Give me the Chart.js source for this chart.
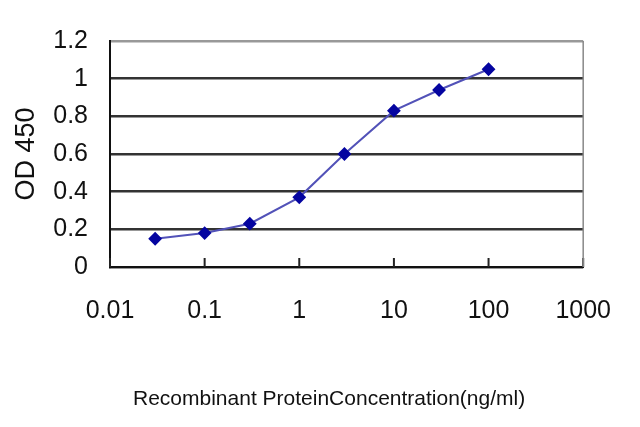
<!DOCTYPE html>
<html>
<head>
<meta charset="utf-8">
<script src="https://cdn.jsdelivr.net/npm/chart.js@4"></script>
<style>
  html, body { margin: 0; padding: 0; background: #fff; }
  #wrap { width: 640px; height: 427px; }
</style>
</head>
<body>
<div id="wrap"><canvas id="chart"></canvas></div>
<script>
  // concentration (ng/ml) and OD 450 readings
  const concentrations = [0.03, 0.1, 0.3, 1, 3, 10, 30, 100];
  const od450 = [0.15, 0.18, 0.23, 0.37, 0.60, 0.83, 0.94, 1.05];
  const xTicks = [0.01, 0.1, 1, 10, 100, 1000];
  const yTicks = [0, 0.2, 0.4, 0.6, 0.8, 1, 1.2];

  const sans = "'Liberation Sans', Arial, sans-serif";

  // inward decade tick marks on the x axis and a grey right border
  const frame = {
    id: 'frame',
    afterDatasetsDraw(chart) {
      const ctx = chart.ctx;
      const area = chart.chartArea;
      const x = chart.scales.x;
      ctx.save();
      ctx.strokeStyle = '#222';
      ctx.lineWidth = 2;
      ctx.beginPath();
      xTicks.forEach(v => {
        const px = x.getPixelForValue(v);
        ctx.moveTo(px, area.bottom);
        ctx.lineTo(px, area.bottom - 9);
      });
      ctx.stroke();
      ctx.strokeStyle = '#888';
      ctx.lineWidth = 1.5;
      ctx.beginPath();
      ctx.moveTo(area.right, area.top);
      ctx.lineTo(area.right, area.bottom);
      ctx.stroke();
      ctx.restore();
    }
  };

  new Chart(document.getElementById('chart'), {
    type: 'line',
    data: {
      datasets: [{
        label: 'OD 450',
        data: concentrations.map((c, i) => ({ x: c, y: od450[i] })),
        borderColor: '#5252b8',
        borderWidth: 2,
        pointStyle: 'rectRot',
        pointRadius: 5.5,
        pointBackgroundColor: '#0505a0',
        pointBorderColor: '#0505a0',
        tension: 0,
        fill: false
      }]
    },
    options: {
      responsive: true,
      maintainAspectRatio: false,
      animation: false,
      layout: { padding: { left: 0, right: 54, top: 41, bottom: 0 } },
      plugins: { legend: { display: false }, tooltip: { enabled: false } },
      scales: {
        x: {
          type: 'logarithmic',
          min: 0.01,
          max: 1000,
          afterBuildTicks: s => { s.ticks = xTicks.map(v => ({ value: v })); },
          afterFit: s => { s.height = 160; },
          grid: { drawOnChartArea: false, drawTicks: false },
          border: { color: '#111', width: 2 },
          ticks: {
            autoSkip: false,
            maxRotation: 0,
            padding: 29,
            color: '#111',
            font: { family: sans, size: 25 },
            callback: v => String(v)
          },
          title: {
            display: true,
            text: 'Recombinant ProteinConcentration(ng/ml)      ',
            color: '#111',
            font: { family: sans, size: 21 },
            padding: { top: 0, bottom: 15 }
          }
        },
        y: {
          min: 0,
          max: 1.2,
          afterBuildTicks: s => { s.ticks = yTicks.map(v => ({ value: v })); },
          afterFit: s => { s.width = 110; },
          grid: {
            drawTicks: false,
            lineWidth: 2.5,
            color: c => (c.tick && c.tick.value === 1.2) ? '#999' : '#333'
          },
          border: { color: '#111', width: 2 },
          ticks: {
            autoSkip: false,
            padding: 22,
            color: '#111',
            font: { family: sans, size: 25 },
            callback: v => String(v)
          },
          title: {
            display: true,
            text: 'OD 450',
            color: '#111',
            font: { family: sans, size: 27 },
            padding: { top: 10, bottom: 0 }
          }
        }
      }
    },
    plugins: [frame]
  });
</script>
</body>
</html>
